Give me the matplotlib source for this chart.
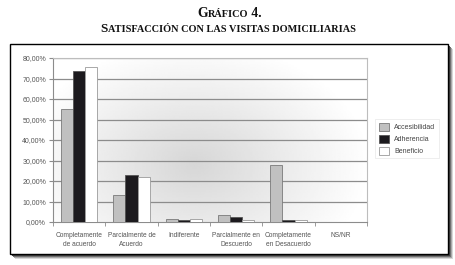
import numpy as np
import matplotlib
matplotlib.use("Agg")
import matplotlib.pyplot as plt
from matplotlib.patches import Rectangle

categories = ["Completamente\nde acuerdo", "Parcialmente de\nAcuerdo", "Indiferente",
              "Parcialmente en\nDescuerdo", "Completamente\nen Desacuerdo", "NS/NR"]
accesibilidad = [55.0, 13.0, 1.5, 3.5, 28.0, 0.0]
adherencia = [73.5, 23.0, 1.0, 2.3, 0.8, 0.0]
beneficio = [75.5, 22.0, 1.3, 1.0, 0.8, 0.0]
series_names = ["Accesibilidad", "Adherencia", "Beneficio"]
yticks = [0, 10, 20, 30, 40, 50, 60, 70, 80]
ytick_labels = ["0,00%", "10,00%", "20,00%", "30,00%", "40,00%", "50,00%", "60,00%", "70,00%", "80,00%"]

W, H = 455, 265
fig = plt.figure(figsize=(W / 100, H / 100), dpi=100)
fig.patch.set_facecolor("white")

# outer frame with shadow
for i, c in enumerate(["#d8d8d8", "#a8a8a8", "#707070", "#404040"]):
    off = 5 - i
    fig.add_artist(Rectangle(((10 + off) / W, 1 - (254 + off) / H), 438 / W, 210 / H,
                             transform=fig.transFigure, facecolor=c, edgecolor="none", zorder=0))
fig.add_artist(Rectangle((10 / W, 1 - 254 / H), 438 / W, 210 / H, transform=fig.transFigure,
                         facecolor="white", edgecolor="black", linewidth=1.0, zorder=1))

ax = fig.add_axes([53 / W, 1 - 222 / H, 314 / W, 164 / H], zorder=2)
x = np.arange(len(categories))
bw = 0.23

# radial gradient background
gx, gy = np.meshgrid(np.linspace(0, 1, 200), np.linspace(0, 1, 100))
r = np.sqrt(((gx - 0.45) / 0.6) ** 2 + ((gy - 0.35) / 0.8) ** 2)
g = np.clip(0.84 + 0.17 * r, 0, 1)
ax.imshow(g, cmap="gray", vmin=0, vmax=1, extent=[-0.5, 5.5, 0, 80], aspect="auto",
          origin="lower", zorder=0)

for yv in yticks[1:]:
    ax.axhline(yv, color="#8c8c8c", linewidth=0.9, zorder=1)

ax.bar(x - bw, accesibilidad, bw, color="#c0c0c0", edgecolor="#7a7a7a", linewidth=0.6, zorder=3, label=series_names[0])
ax.bar(x, adherencia, bw, color="#1c1a1e", edgecolor="#555555", linewidth=0.6, zorder=3, label=series_names[1])
ax.bar(x + bw, beneficio, bw, color="white", edgecolor="#9a9a9a", linewidth=0.6, zorder=3, label=series_names[2])

ax.set_xlim(-0.5, 5.5)
ax.set_ylim(0, 80)
ax.set_yticks(yticks)
ax.set_yticklabels(ytick_labels)
ax.set_xticks(x)
ax.set_xticklabels(categories)
ax.set_xticks(np.arange(-0.5, 6.0, 1.0), minor=True)
ax.tick_params(axis="x", which="major", length=0, pad=7)
ax.tick_params(axis="x", which="minor", length=3, color="#8c8c8c")
ax.tick_params(axis="y", length=3, color="#8c8c8c", pad=2)
for lab in ax.get_xticklabels():
    lab.set_fontsize(4.8)
    lab.set_color("#555555")
    lab.set_family("Liberation Sans")
    lab.set_linespacing(1.5)
for lab in ax.get_yticklabels():
    lab.set_fontsize(5.0)
    lab.set_color("#555555")
    lab.set_family("Liberation Sans")
for s in ["top", "right"]:
    ax.spines[s].set_color("#bdbdbd")
    ax.spines[s].set_linewidth(0.8)
for s in ["left", "bottom"]:
    ax.spines[s].set_color("#8c8c8c")
    ax.spines[s].set_linewidth(0.8)

leg = fig.legend(loc="upper left", bbox_to_anchor=(372 / W, 1 - 116 / H), frameon=True,
                 prop={"family": "Liberation Sans", "size": 5.0}, handlelength=1.4, handleheight=1.4,
                 borderpad=0.5, labelspacing=0.5, handletextpad=0.8, fancybox=False)
leg.get_frame().set_edgecolor("#e6e6e6")
leg.get_frame().set_linewidth(0.6)
for t in leg.get_texts():
    t.set_color("#444444")
leg.set_zorder(5)

# titles with fake small caps
serif = "Liberation Serif"
def small_caps(parts, xc, y):
    texts = []
    for txt, sz in parts:
        t = fig.text(0, y, txt, fontsize=sz, fontweight="bold", family=serif,
                     ha="left", va="baseline", color="#111111")
        texts.append(t)
    fig.canvas.draw()
    r = fig.canvas.get_renderer()
    widths = [tt.get_window_extent(r).width for tt in texts]
    total = sum(widths)
    cur = xc * W - total / 2
    for tt, w in zip(texts, widths):
        tt.set_position((cur / W, y))
        cur += w

small_caps([("G", 9.8), ("RÁFICO", 7.4), (" 4.", 9.8)], 229.5 / W, 1 - 17 / H)
small_caps([("S", 9.5), ("ATISFACCIÓN CON LAS VISITAS DOMICILIARIAS", 7.4)], 228 / W, 1 - 32 / H)

fig.savefig("out.png", dpi=100)
